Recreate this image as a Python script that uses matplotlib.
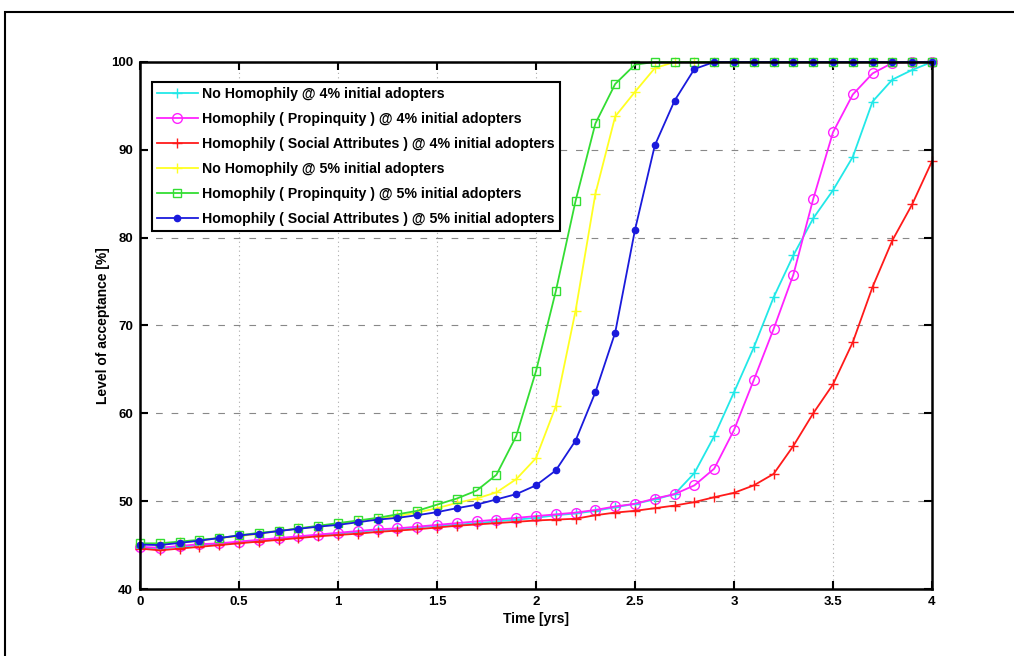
import numpy as np
import matplotlib
matplotlib.use("Agg")
import matplotlib.pyplot as plt
from matplotlib.patches import Rectangle

plt.rcParams["font.family"] = ["Liberation Sans", "DejaVu Sans"]

time_yrs = [round(0.1 * i, 1) for i in range(41)]

no_homophily_4 = [44.7, 44.6, 44.8, 45.0, 45.1, 45.3, 45.5, 45.7, 45.9, 46.1,
                  46.3, 46.5, 46.7, 46.8, 47.0, 47.2, 47.3, 47.5, 47.7, 47.9,
                  48.1, 48.4, 48.6, 48.9, 49.3, 49.7, 50.2, 50.8, 53.2, 57.4,
                  62.4, 67.5, 73.2, 78.0, 82.2, 85.4, 89.2, 95.5, 98.0, 99.1,
                  100.0]
propinquity_4 = [44.8, 44.7, 44.9, 45.1, 45.2, 45.4, 45.6, 45.8, 46.0, 46.2,
                 46.4, 46.6, 46.8, 46.9, 47.1, 47.3, 47.5, 47.7, 47.9, 48.1,
                 48.3, 48.5, 48.7, 49.0, 49.4, 49.7, 50.3, 50.8, 51.8, 53.7,
                 58.1, 63.8, 69.6, 75.8, 84.4, 92.0, 96.3, 98.7, 99.9, 100.0,
                 100.0]
social_attr_4 = [44.6, 44.4, 44.6, 44.8, 45.0, 45.2, 45.4, 45.6, 45.8, 46.0,
                 46.15, 46.3, 46.5, 46.65, 46.8, 47.0, 47.2, 47.35, 47.5, 47.65,
                 47.8, 47.9, 48.0, 48.4, 48.7, 48.9, 49.2, 49.5, 49.9, 50.45,
                 50.95, 51.8, 53.1, 56.3, 60.0, 63.3, 68.1, 74.4, 79.7, 83.8,
                 88.7]
no_homophily_5 = [45.1, 45.1, 45.3, 45.5, 45.8, 46.0, 46.3, 46.6, 46.9, 47.1,
                  47.4, 47.7, 48.0, 48.3, 48.7, 49.2, 49.8, 50.3, 51.0, 52.5,
                  54.9, 60.8, 71.7, 85.0, 93.8, 96.6, 99.3, 100.0, 100.0, 100.0,
                  100.0, 100.0, 100.0, 100.0, 100.0, 100.0, 100.0, 100.0, 100.0, 100.0,
                  100.0]
propinquity_5 = [45.2, 45.2, 45.4, 45.6, 45.8, 46.1, 46.4, 46.6, 46.9, 47.2,
                 47.5, 47.8, 48.1, 48.5, 48.9, 49.6, 50.3, 51.2, 53.0, 57.4,
                 64.8, 73.9, 84.2, 93.0, 97.5, 99.7, 100.0, 100.0, 100.0, 100.0,
                 100.0, 100.0, 100.0, 100.0, 100.0, 100.0, 100.0, 100.0, 100.0, 100.0,
                 100.0]
social_attr_5 = [45.06, 45.0, 45.25, 45.5, 45.8, 46.1, 46.3, 46.6, 46.85, 47.1,
                 47.3, 47.6, 47.9, 48.1, 48.4, 48.75, 49.2, 49.6, 50.2, 50.8,
                 51.8, 53.5, 56.9, 62.4, 69.2, 80.9, 90.5, 95.6, 99.2, 100.0,
                 100.0, 100.0, 100.0, 100.0, 100.0, 100.0, 100.0, 100.0, 100.0, 100.0,
                 100.0]

series_labels = [
    "No Homophily @ 4% initial adopters",
    "Homophily ( Propinquity ) @ 4% initial adopters",
    "Homophily ( Social Attributes ) @ 4% initial adopters",
    "No Homophily @ 5% initial adopters",
    "Homophily ( Propinquity ) @ 5% initial adopters",
    "Homophily ( Social Attributes ) @ 5% initial adopters",
]
series_values = [no_homophily_4, propinquity_4, social_attr_4,
                 no_homophily_5, propinquity_5, social_attr_5]

styles = [
    dict(color="#22e8e8", marker="+", markersize=7, mew=1.0),
    dict(color="#ff22ff", marker="o", markersize=7, mfc="none", mew=1.0),
    dict(color="#ff1a1a", marker="+", markersize=7, mew=1.0),
    dict(color="#ffff22", marker="+", markersize=7, mew=1.0),
    dict(color="#33dd33", marker="s", markersize=6, mfc="none", mew=1.0),
    dict(color="#1a1adc", marker="o", markersize=4.5, mew=1.0),
]

fig = plt.figure(figsize=(10.14, 6.56), dpi=100)
ax = fig.add_axes([140 / 1014, 1 - 589 / 656, 792 / 1014, 527 / 656])

for values, label, st in zip(series_values, series_labels, styles):
    ax.plot(time_yrs, values, label=label, linewidth=1.3, clip_on=False, **st)

ax.set_xlim(0, 4)
ax.set_ylim(40, 100)
ax.set_xticks(np.arange(0, 4.01, 0.5))
ax.set_xticklabels(["0", "0.5", "1", "1.5", "2", "2.5", "3", "3.5", "4"])
ax.set_yticks(range(40, 101, 10))

ax.grid(True, axis="y", color="#888888", linestyle=(0, (6, 8)), linewidth=0.8)
ax.grid(True, axis="x", color="#aaaaaa", linestyle=(0, (1, 3)), linewidth=0.8)
ax.set_axisbelow(True)

ax.tick_params(direction="in", length=6, width=1.5, top=True, right=True,
               labelsize=9.5, pad=5)
for lab in ax.get_xticklabels() + ax.get_yticklabels():
    lab.set_fontweight("bold")
for sp in ax.spines.values():
    sp.set_linewidth(1.8)

ax.set_xlabel("Time [yrs]", fontsize=10, fontweight="bold", labelpad=3)
ax.set_ylabel("Level of acceptance [%]", fontsize=10, fontweight="bold", labelpad=1)

leg = ax.legend(loc="upper left", bbox_to_anchor=(0.015, 0.962), fancybox=False,
                framealpha=1, edgecolor="black", fontsize=10.2, handlelength=2.9,
                borderpad=0.35, labelspacing=0.78, handletextpad=0.3,
                borderaxespad=0)
leg.get_frame().set_linewidth(1.5)
for txt in leg.get_texts():
    txt.set_fontweight("bold")

# outer page frame, cut off on the right and bottom
fig.patches.append(Rectangle((5 / 1014, -0.1), 1.2, 1.1 - 12 / 656, fill=False,
                             edgecolor="black", linewidth=1.5,
                             transform=fig.transFigure, figure=fig))

fig.savefig("out.png", dpi=100)
